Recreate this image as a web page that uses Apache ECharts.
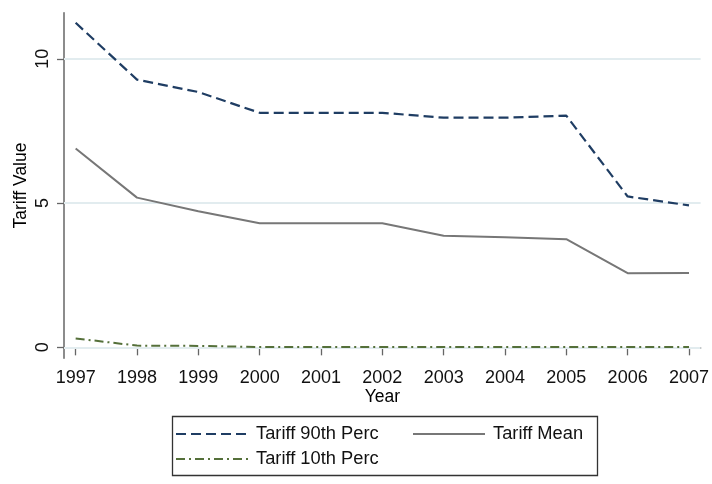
<!DOCTYPE html>
<html>
<head>
<meta charset="utf-8">
<script src="https://cdn.jsdelivr.net/npm/echarts@6/dist/echarts.min.js"></script>
<style>
html,body{margin:0;padding:0;background:#fff;}
#c{width:712px;height:484px;}
</style>
</head>
<body>
<div id="c"></div>
<script>
var years = [1997, 1998, 1999, 2000, 2001, 2002, 2003, 2004, 2005, 2006, 2007];
var tariff90 = [11.25, 9.28, 8.85, 8.13, 8.13, 8.13, 7.96, 7.96, 8.03, 5.23, 4.92];
var tariffMean = [6.89, 5.19, 4.72, 4.30, 4.30, 4.30, 3.87, 3.82, 3.75, 2.57, 2.58];
var tariff10 = [0.31, 0.06, 0.05, 0.01, 0.01, 0.01, 0.01, 0.01, 0.01, 0.01, 0.01];
var yTicks = [0, 5, 10];

function pairs(vals){ return years.map(function(y,i){ return [y, vals[i]]; }); }

var FONT = '"Liberation Sans", Arial, sans-serif';
var chart = echarts.init(document.getElementById('c'), null, {renderer:'canvas'});

function legendComp(name, left, top){
  return {
    show: true, data: [name], left: left, top: top, orient: 'horizontal',
    itemWidth: 72, itemHeight: 14, itemGap: 10, padding: 0,
    itemStyle: {opacity: 0},
    textStyle: {fontSize: 18.3, color: '#111', fontFamily: FONT, padding: [0,0,0,3]},
    selectedMode: false
  };
}

var option = {
  backgroundColor: '#fff',
  animation: false,
  textStyle: {fontFamily: FONT},
  grid: {left: 64, right: 9, top: 12.7, bottom: 125.7, containLabel: false},
  xAxis: {
    type: 'value', min: 1996.81, max: 2007.19,
    name: 'Year', nameLocation: 'middle', nameGap: 30, nameMoveOverlap: false,
    nameTextStyle: {fontSize: 17.5, color: '#000', fontFamily: FONT},
    axisLine: {show: true, lineStyle: {color: '#666', width: 1.5}},
    axisTick: {show: true, length: 8, lineStyle: {color: '#666', width: 1.3}, customValues: years},
    axisLabel: {fontSize: 18, color: '#111', margin: 11, customValues: years, formatter: function(v){return String(Math.round(v));}},
    splitLine: {show: false}
  },
  yAxis: {
    type: 'value', min: -0.38, max: 11.6,
    name: 'Tariff Value', nameLocation: 'middle', nameGap: 34, nameRotate: 90, nameMoveOverlap: false,
    nameTextStyle: {fontSize: 17.5, color: '#000', fontFamily: FONT},
    axisLine: {show: true, lineStyle: {color: '#666', width: 1.5}},
    axisTick: {show: true, length: 7, lineStyle: {color: '#666', width: 1.3}, customValues: yTicks},
    axisLabel: {fontSize: 18, color: '#111', margin: 12, rotate: 90, customValues: yTicks},
    splitLine: {show: false}
  },
  series: [
    {
      name: 'Tariff 90th Perc', type: 'line', data: pairs(tariff90), symbol: 'none', z: 5,
      lineStyle: {color: '#1f3d63', width: 2.2, type: [10, 5]},
      itemStyle: {color: '#1f3d63'},
      markLine: {
        silent: true, symbol: ['none','none'], z: 1,
        label: {show: false},
        lineStyle: {color: '#e2ecef', width: 2, type: 'solid'},
        data: yTicks.map(function(t){ return {yAxis: t}; })
      }
    },
    {
      name: 'Tariff Mean', type: 'line', data: pairs(tariffMean), symbol: 'none', z: 4,
      lineStyle: {color: '#777', width: 2, type: 'solid'},
      itemStyle: {color: '#777'}
    },
    {
      name: 'Tariff 10th Perc', type: 'line', data: pairs(tariff10), symbol: 'none', z: 4,
      lineStyle: {color: '#55703a', width: 2, type: [9, 4, 2, 4]},
      itemStyle: {color: '#55703a'}
    }
  ],
  legend: [
    legendComp('Tariff 90th Perc', 175, 425),
    legendComp('Tariff Mean', 412, 425),
    legendComp('Tariff 10th Perc', 175, 450)
  ],
  graphic: [
    {type: 'rect', left: 170, top: 414, shape: {x:0, y:0, width: 425, height: 59},
     style: {fill: 'none', stroke: '#333', lineWidth: 1.3}, silent: true}
  ]
};
chart.setOption(option);
</script>
</body>
</html>
